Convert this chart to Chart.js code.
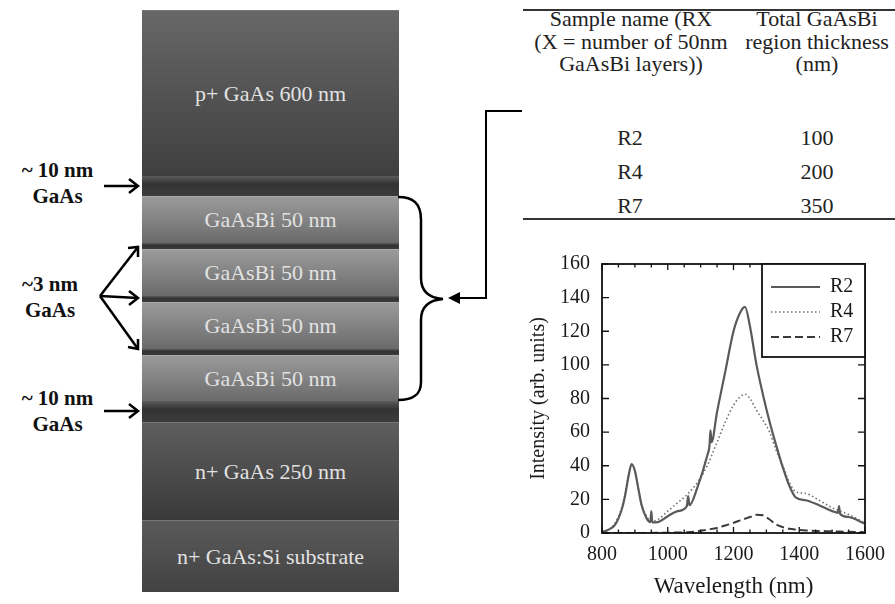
<!DOCTYPE html>
<html>
<head>
<meta charset="utf-8">
<script src="https://cdn.jsdelivr.net/npm/chart.js@4.4.1/dist/chart.umd.min.js"></script>
<style>
  html, body { margin: 0; padding: 0; background: #fff; }
  body { width: 895px; height: 604px; position: relative; overflow: hidden;
         font-family: "Liberation Serif", "Times New Roman", serif; }
  .layer { position: absolute; left: 142px; width: 257px; color: #e2e2e2; font-size: 22px;
           font-family: "Liberation Serif", "Times New Roman", serif;
           display: flex; align-items: center; justify-content: center; box-sizing: border-box; }
  .thick { background: linear-gradient(#676767, #3f3f3f); border-top: 1px solid #777; }
  .thin { background: linear-gradient(#5a5a5a, #333 40%, #3c3c3c); }
  .bi { background: linear-gradient(#9a9a9a, #858585 45%, #6a6a6a); border-top: 1px solid #aaa; }
  .side { position: absolute; font-weight: bold; font-size: 21px; color: #111; text-align: center; line-height: 26px;
          font-family: "Liberation Serif", "Times New Roman", serif; }
  .cell { position: absolute; font-size: 22px; color: #222; text-align: center; white-space: nowrap;
          font-family: "Liberation Serif", "Times New Roman", serif; transform: translate(-50%, -50%); }
  .rule { position: absolute; left: 523px; width: 372px; height: 2px; background: #333; }
  #plot { position: absolute; left: 500px; top: 240px; width: 395px; height: 364px; }
</style>
</head>
<body>
<!-- layer stack -->
<div class="layer thick" style="top:10px;height:166px;">p+ GaAs 600 nm</div>
<div class="layer thin" style="top:176px;height:20px;"></div>
<div class="layer bi" style="top:196px;height:47px;">GaAsBi 50 nm</div>
<div class="layer thin" style="top:243px;height:6px;"></div>
<div class="layer bi" style="top:249px;height:47px;">GaAsBi 50 nm</div>
<div class="layer thin" style="top:296px;height:6px;"></div>
<div class="layer bi" style="top:302px;height:47px;">GaAsBi 50 nm</div>
<div class="layer thin" style="top:349px;height:6px;"></div>
<div class="layer bi" style="top:355px;height:46px;">GaAsBi 50 nm</div>
<div class="layer thin" style="top:401px;height:21px;"></div>
<div class="layer thick" style="top:422px;height:98px;background:linear-gradient(#5e5e5e,#3a3a3a);">n+ GaAs 250 nm</div>
<div class="layer thick" style="top:520px;height:72px;background:linear-gradient(#5a5a5a,#424242);">n+ GaAs:Si substrate</div>

<div class="side" style="left:10px;top:157px;width:95px;">~ 10 nm<br>GaAs</div>
<div class="side" style="left:5px;top:271px;width:90px;">~3 nm<br>GaAs</div>
<div class="side" style="left:10px;top:385px;width:95px;">~ 10 nm<br>GaAs</div>

<!-- table -->
<div class="rule" style="top:9px;"></div>
<div class="cell" style="left:631px;top:19px;">Sample name (RX</div>
<div class="cell" style="left:631px;top:42px;">(X = number of 50nm</div>
<div class="cell" style="left:631px;top:64px;">GaAsBi layers))</div>
<div class="cell" style="left:817px;top:19px;">Total GaAsBi</div>
<div class="cell" style="left:817px;top:42px;">region thickness</div>
<div class="cell" style="left:817px;top:64px;">(nm)</div>
<div class="cell" style="left:630px;top:138px;">R2</div>
<div class="cell" style="left:630px;top:172px;">R4</div>
<div class="cell" style="left:630px;top:206px;">R7</div>
<div class="cell" style="left:817px;top:138px;">100</div>
<div class="cell" style="left:817px;top:172px;">200</div>
<div class="cell" style="left:817px;top:206px;">350</div>
<div class="rule" style="top:218px;"></div>

<svg width="895" height="604" style="position:absolute;left:0;top:0;" fill="none" stroke="#000" stroke-width="2.5">
  <!-- arrows to the thin GaAs layers -->
  <line x1="104" y1="186" x2="138" y2="186"/>
  <polyline points="129,179 138,186 129,193"/>
  <line x1="100" y1="296" x2="138" y2="247"/>
  <polyline points="128,248 138,247 138,257"/>
  <line x1="100" y1="296" x2="138" y2="298"/>
  <polyline points="129,291 138,298 129,305"/>
  <line x1="100" y1="296" x2="138" y2="349"/>
  <polyline points="138,339 138,349 128,347"/>
  <line x1="104" y1="411" x2="138" y2="411"/>
  <polyline points="129,404 138,411 129,418"/>
  <!-- brace -->
  <path d="M398 197 C413 197 421 203 421 220 L421 278 C421 292 430 298 443 299 C430 300 421 306 421 320 L421 382 C421 395 413 400 398 400"/>
  <!-- connector from table -->
  <polyline points="522,111 486,111 486,298 458,298" stroke-width="2"/>
  <polygon points="448,298 460,292 460,304" fill="#000" stroke="none"/>
</svg>

<div id="plot"><canvas id="pl"></canvas></div>

<script>
const seriesNames = ["R2", "R4", "R7"];
const xTicks = [800, 1000, 1200, 1400, 1600];
const yTicks = [0, 20, 40, 60, 80, 100, 120, 140, 160];

// R2 (solid), with the few narrow spikes seen on the trace
const r2Wavelength = [800, 820, 840, 860, 870, 880, 890, 900, 910, 920, 935, 947, 950, 953, 970, 1000, 1030,
  1058, 1062, 1066, 1090, 1120, 1127, 1130, 1133, 1150, 1175, 1200, 1220, 1235, 1250, 1270, 1290, 1310,
  1330, 1350, 1370, 1390, 1420, 1460, 1500, 1518, 1521, 1524, 1550, 1600];
const r2Intensity = [0.5, 2, 5, 14, 22, 33, 41, 37, 27, 17, 9, 6.5, 13, 6.3, 6.5, 10, 13,
  16, 22, 16.5, 27, 46, 52, 61, 54, 72, 96, 120, 131, 134.5, 123, 100, 82, 66,
  52, 39, 28, 21, 19.5, 16.5, 13, 12, 16, 11.5, 9.5, 5.5];

// R4 (dotted)
const r4Wavelength = [800, 820, 840, 860, 870, 880, 890, 900, 910, 920, 935, 950, 970, 1000, 1030, 1060,
  1090, 1120, 1150, 1175, 1200, 1220, 1235, 1250, 1270, 1290, 1310, 1330, 1350, 1370, 1390, 1420, 1460,
  1500, 1550, 1600];
const r4Intensity = [0.5, 2, 6, 15, 23, 34, 40, 37, 27, 17, 10, 7, 8, 13, 18, 23,
  30, 40, 54, 66, 76, 81, 82.5, 80, 73, 67, 60, 49, 40, 30, 24.5, 23.5, 19.5,
  15, 11, 6];

// R7 (dashed)
const r7Wavelength = [800, 900, 1000, 1060, 1090, 1120, 1150, 1175, 1200, 1220, 1235, 1250, 1270, 1290,
  1310, 1330, 1350, 1370, 1390, 1420, 1460, 1500, 1550, 1600];
const r7Intensity = [0, 0, 0.2, 0.4, 1, 2, 3, 4.5, 6, 7.5, 8.5, 9.5, 10.8, 10.5,
  8, 5, 3.5, 2.5, 2, 1.5, 1.2, 1, 0.7, 0.5];

const lineColors = ["#5a5a5a", "#707070", "#3a3a3a"];
const lineWidths = [2.2, 1.6, 2];
const lineDashes = [[], [1.5, 2.5], [8, 4]];
const serif = '"Liberation Serif", "Times New Roman", serif';

function pairs(xs, ys) {
  return xs.map((x, i) => ({ x: x, y: ys[i] }));
}

const datasets = [
  pairs(r2Wavelength, r2Intensity),
  pairs(r4Wavelength, r4Intensity),
  pairs(r7Wavelength, r7Intensity),
].map((d, i) => ({
  label: seriesNames[i],
  data: d,
  borderColor: lineColors[i],
  borderWidth: lineWidths[i],
  borderDash: lineDashes[i],
  pointRadius: 0,
  fill: false,
  cubicInterpolationMode: "monotone",
}));

// frame, inward ticks on all four sides and the boxed legend
const framePlugin = {
  id: "frame",
  afterDatasetsDraw(chart) {
    const { ctx, chartArea: a, scales } = chart;
    ctx.save();
    ctx.strokeStyle = "#111";
    ctx.lineWidth = 1.3;
    ctx.beginPath();
    for (let w = 800; w <= 1600; w += 50) {
      const px = scales.x.getPixelForValue(w);
      const len = w % 200 === 0 ? 6 : 3.5;
      ctx.moveTo(px, a.bottom); ctx.lineTo(px, a.bottom - len);
      ctx.moveTo(px, a.top); ctx.lineTo(px, a.top + len);
    }
    yTicks.forEach(v => {
      const py = scales.y.getPixelForValue(v);
      ctx.moveTo(a.left, py); ctx.lineTo(a.left + 7, py);
      ctx.moveTo(a.right, py); ctx.lineTo(a.right - 7, py);
    });
    ctx.stroke();
    ctx.lineWidth = 1.8;
    ctx.strokeRect(a.left, a.top, a.right - a.left, a.bottom - a.top);

    // legend
    const bw = 103, bh = 93;
    const bx = a.right - bw, by = a.top;
    ctx.fillStyle = "#fff";
    ctx.fillRect(bx, by, bw, bh);
    ctx.strokeRect(bx, by, bw, bh);
    ctx.font = "20px " + serif;
    ctx.textBaseline = "middle";
    ctx.fillStyle = "#1a1a1a";
    seriesNames.forEach((name, i) => {
      const y = by + 23 + i * 25;
      ctx.beginPath();
      ctx.strokeStyle = lineColors[i];
      ctx.lineWidth = lineWidths[i];
      ctx.setLineDash(lineDashes[i]);
      ctx.moveTo(bx + 9, y); ctx.lineTo(bx + 58, y);
      ctx.stroke();
      ctx.setLineDash([]);
      ctx.fillText(name, bx + 68, y);
    });
    ctx.restore();
  },
};

new Chart(document.getElementById("pl"), {
  type: "line",
  data: { datasets: datasets },
  plugins: [framePlugin],
  options: {
    responsive: true,
    maintainAspectRatio: false,
    devicePixelRatio: 1,
    animation: false,
    layout: { padding: { left: 0, top: 24, right: 25, bottom: 0 } },
    plugins: { legend: { display: false }, tooltip: { enabled: false } },
    scales: {
      x: {
        type: "linear",
        min: 800,
        max: 1600,
        afterBuildTicks: s => { s.ticks = xTicks.map(v => ({ value: v })); },
        afterFit: s => { s.height = 71; },
        grid: { display: false, drawTicks: false },
        border: { display: false },
        ticks: { color: "#1a1a1a", padding: 10, maxRotation: 0, callback: v => String(v),
                 font: { family: serif, size: 20 } },
        title: { display: true, text: "Wavelength (nm)", color: "#1a1a1a", padding: { top: 0, bottom: 3 },
                 font: { family: serif, size: 23 } },
      },
      y: {
        min: 0,
        max: 160,
        afterBuildTicks: s => { s.ticks = yTicks.map(v => ({ value: v })); },
        afterFit: s => { s.width = 102; },
        grid: { display: false, drawTicks: false },
        border: { display: false },
        ticks: { color: "#1a1a1a", padding: 12, callback: v => String(v), font: { family: serif, size: 20 } },
        title: { display: true, text: "Intensity (arb. units)", color: "#1a1a1a", padding: { top: 27, bottom: 0 },
                 font: { family: serif, size: 20 } },
      },
    },
  },
});
</script>
</body>
</html>
